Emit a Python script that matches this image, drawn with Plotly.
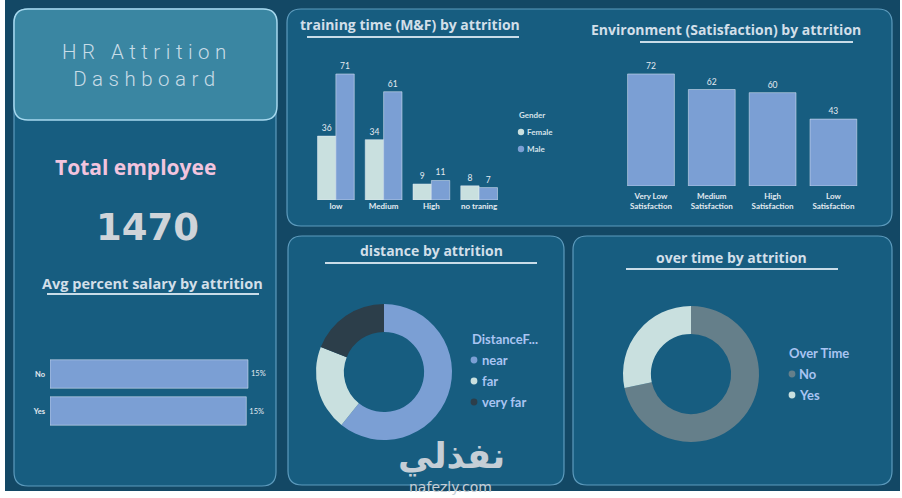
import plotly.graph_objects as go

# chart values
train_levels = ["low", "Medium", "High", "no traning"]
train_female = [36, 34, 9, 8]
train_male = [71, 61, 11, 7]

env_levels = ["Very Low Satisfaction", "Medium Satisfaction", "High Satisfaction", "Low Satisfaction"]
env_counts = [72, 62, 60, 43]

salary_groups = ["No", "Yes"]
salary_pct = [15.23, 15.10]

distance_groups = ["near", "far", "very far"]
distance_counts = [144, 48, 45]

overtime_groups = ["No", "Yes"]
overtime_counts = [1054, 416]

total_employees = 1470

W, H = 902, 498
FONT = "Lato"
TFONT = "Open Sans"
BLUE = "#7b9fd4"
MINT = "#c9e0df"
SLATE = "#657f8a"
DARK = "#2c3e4a"
TITLE_C = "#d2dfe9"
TICK_C = "#e3eaf0"
LEG_C = "#a9c4f2"
PANEL = "#175d80"
FRAME = "#134865"
EDGE = "#5d9bbd"


def fx(x):
    return x / W


def fy(y):
    return 1 - y / H


def rrect(x0, y0, x1, y1, r):
    """Rounded rectangle path in paper coords from pixel corners."""
    pts = [
        f"M{fx(x0 + r)},{fy(y0)}",
        f"L{fx(x1 - r)},{fy(y0)}",
        f"Q{fx(x1)},{fy(y0)} {fx(x1)},{fy(y0 + r)}",
        f"L{fx(x1)},{fy(y1 - r)}",
        f"Q{fx(x1)},{fy(y1)} {fx(x1 - r)},{fy(y1)}",
        f"L{fx(x0 + r)},{fy(y1)}",
        f"Q{fx(x0)},{fy(y1)} {fx(x0)},{fy(y1 - r)}",
        f"L{fx(x0)},{fy(y0 + r)}",
        f"Q{fx(x0)},{fy(y0)} {fx(x0 + r)},{fy(y0)}",
        "Z",
    ]
    return " ".join(pts)


shapes = [
    dict(type="rect", xref="paper", yref="paper", x0=fx(5), x1=fx(900), y0=fy(491), y1=fy(0),
         fillcolor=FRAME, line_width=0, layer="below"),
]
for (x0, y0, x1, y1) in [(14, 9, 276, 486), (287, 9, 892, 226), (288, 236, 564, 485), (573, 236, 892, 485)]:
    shapes.append(dict(type="path", xref="paper", yref="paper", path=rrect(x0, y0, x1, y1, 14),
                       fillcolor=PANEL, line=dict(color=EDGE, width=1.2), layer="below"))
shapes.append(dict(type="path", xref="paper", yref="paper", path=rrect(14, 9, 277, 120, 14),
                   fillcolor="#3a86a2", line=dict(color="#a6d8ee", width=1.5), layer="below"))

# title underlines
for (x0, x1, y) in [(307, 519, 37), (640, 853, 42), (47, 259, 294), (325, 537, 263), (626, 838, 269)]:
    shapes.append(dict(type="line", xref="paper", yref="paper", x0=fx(x0), x1=fx(x1), y0=fy(y), y1=fy(y),
                       line=dict(color="#c9dce8", width=2), layer="below"))

annotations = []


def text(x, y, s, size, color, xanchor="center", weight="bold", family=FONT):
    annotations.append(dict(xref="paper", yref="paper", x=fx(x), y=fy(y), text=s, showarrow=False,
                            xanchor=xanchor, yanchor="middle",
                            font=dict(family=family, size=size, color=color, weight=weight)))


def legend(x, y, title, labels, colors, size, color, step, dot_dx, text_dx, r):
    text(x, y, title, size, color, xanchor="left")
    for i, (lab, col) in enumerate(zip(labels, colors)):
        cy = y + step * (i + 1)
        cx = x + dot_dx
        shapes.append(dict(type="circle", xref="paper", yref="paper",
                           x0=fx(cx - r), x1=fx(cx + r), y0=fy(cy + r), y1=fy(cy - r),
                           fillcolor=col, line_width=0))
        text(x + text_dx, cy, lab, size, color, xanchor="left")


text(147, 65, '<span style="letter-spacing:5.5px">HR Attrition<br>Dashboard</span>', 20.5, "#c8dce7",
     weight=300, family="Roboto")
text(135, 167, "Total employee", 21, "#f2c4de", family=TFONT)
text(147, 228, str(total_employees), 37, "#cfd4d9", family="DejaVu Sans")
text(152, 283, "Avg percent salary by attrition", 14.5, TITLE_C, family=TFONT)
text(298, 24, "training time (M&F) by attrition", 14, TITLE_C, xanchor="left", family=TFONT)
text(726, 29, "Environment (Satisfaction) by attrition", 14, TITLE_C, family=TFONT)
text(431, 250, "distance by attrition", 14, TITLE_C, family=TFONT)
text(731, 257, "over time by attrition", 14, TITLE_C, family=TFONT)

legend(517, 115, "Gender", ["Female", "Male"], [MINT, BLUE], 8, "#d6e2ea", 17, 4, 8, 3.2)
legend(470, 339, "DistanceF...", distance_groups, [BLUE, MINT, DARK], 13, LEG_C, 21, 4, 10, 3.4)
legend(787, 353, "Over Time", overtime_groups, [SLATE, MINT], 13, LEG_C, 21, 5, 10, 3.4)

# watermark
text(451, 456, "نفذلي", 35, "#c5ced6", family="DejaVu Sans")
text(450, 487, "nafezly.com", 14, "#c5ced6", weight="normal", family="DejaVu Sans")

fig = go.Figure()

val_font = dict(family=FONT, size=8.5, color=TICK_C)
fig.add_trace(go.Bar(x=train_levels, y=train_female, name="Female", marker_color=MINT,
                     text=train_female, textposition="outside", textfont=val_font,
                     cliponaxis=False, xaxis="x", yaxis="y", showlegend=False))
fig.add_trace(go.Bar(x=train_levels, y=train_male, name="Male", marker_color=BLUE,
                     text=train_male, textposition="outside", textfont=val_font,
                     cliponaxis=False, xaxis="x", yaxis="y", showlegend=False))
fig.add_trace(go.Bar(x=env_levels, y=env_counts, marker_color=BLUE,
                     text=env_counts, textposition="outside", textfont=val_font,
                     cliponaxis=False, xaxis="x2", yaxis="y2", showlegend=False))
fig.add_trace(go.Bar(y=salary_groups, x=salary_pct, orientation="h", marker_color=BLUE,
                     texttemplate="%{x:.0f}%", textposition="outside",
                     textfont=dict(family=FONT, size=7.5, color=TICK_C),
                     cliponaxis=False, xaxis="x3", yaxis="y3", showlegend=False))

fig.add_trace(go.Pie(labels=distance_groups, values=distance_counts, hole=0.59, sort=False,
                     direction="clockwise", textinfo="none", showlegend=False,
                     marker=dict(colors=[BLUE, MINT, DARK]),
                     domain=dict(x=[fx(316), fx(452)], y=[fy(440), fy(304)])))
fig.add_trace(go.Pie(labels=overtime_groups, values=overtime_counts, hole=0.59, sort=False,
                     direction="clockwise", textinfo="none", showlegend=False,
                     marker=dict(colors=[SLATE, MINT]),
                     domain=dict(x=[fx(623), fx(759)], y=[fy(442), fy(306)])))

tick_font = dict(family=FONT, size=8, color=TICK_C, weight="bold")
hidden = dict(visible=False, showgrid=False, zeroline=False)
env_ticks = ["<br>".join(s.rsplit(" ", 1)) for s in env_levels]

fig.update_layout(
    width=W,
    height=H,
    margin=dict(l=0, r=0, t=0, b=0),
    paper_bgcolor="white",
    plot_bgcolor="rgba(0,0,0,0)",
    barmode="group",
    bargap=0.23,
    bargroupgap=0,
    showlegend=False,
    shapes=shapes,
    annotations=annotations,
    xaxis=dict(domain=[fx(312), fx(503)], anchor="y", showgrid=False, zeroline=False, showline=False,
               ticks="", tickfont=tick_font, fixedrange=True),
    yaxis=dict(domain=[fy(200), fy(58)], range=[0, 80], anchor="x", **hidden),
    xaxis2=dict(domain=[fx(620.6), fx(863.8)], anchor="y2", showgrid=False, zeroline=False,
                showline=False, ticks="", tickfont=tick_font, ticklabelstandoff=4,
                tickvals=env_levels, ticktext=env_ticks),
    yaxis2=dict(domain=[fy(186), fy(61.5)], range=[0, 80], anchor="x2", **hidden),
    xaxis3=dict(domain=[fx(50), fx(264)], range=[0, 16.46], anchor="y3", **hidden),
    yaxis3=dict(domain=[fy(429.5), fy(355.5)], anchor="x3", autorange="reversed", showgrid=False,
                zeroline=False, showline=False, ticks="", ticklabelstandoff=4,
                tickfont=dict(family=FONT, size=7.5, color=TICK_C, weight="bold")),
)

# the page body has an 8px default margin; drop it so the figure sits at the window corner
fig.write_html("out.html", config={"displayModeBar": False},
               post_script="document.body.style.margin='0';")
